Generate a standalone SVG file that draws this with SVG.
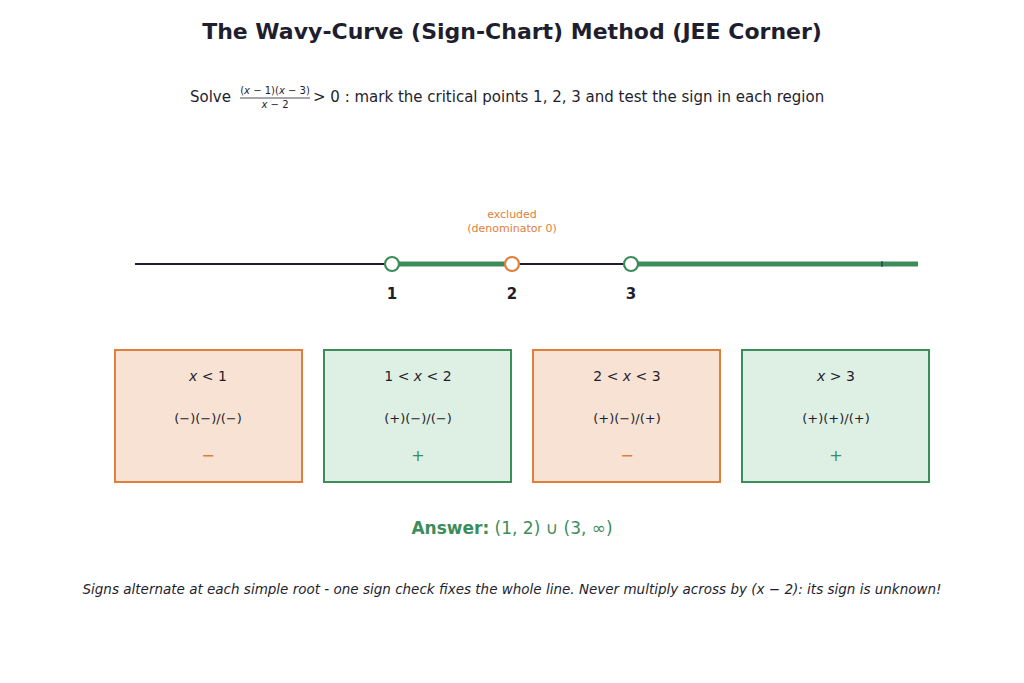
<svg xmlns="http://www.w3.org/2000/svg" width="1024" height="683" viewBox="0 0 1024 683">
<style>
text{font-family:"DejaVu Sans",sans-serif;fill:#1e1e2e}
.i{font-style:italic}
.rO{fill:#f8e2d4;stroke:#e07e3c;stroke-width:2}
.rG{fill:#deefe4;stroke:#3d8c5c;stroke-width:2}
.c{font-size:14px;text-anchor:middle}
.f{font-size:13px;text-anchor:middle}
.pt{font-size:15px;font-weight:bold;text-anchor:middle}
</style>
<rect width="1024" height="683" fill="#fff"/>
<text x="512" y="39" font-size="22" font-weight="bold" text-anchor="middle">The Wavy-Curve (Sign-Chart) Method  (JEE Corner)</text>
<text x="190" y="102" font-size="15">Solve</text>
<text x="275" y="94" font-size="10" text-anchor="middle">(<tspan class="i">x</tspan> − 1)(<tspan class="i">x</tspan> − 3)</text>
<line x1="240" y1="98" x2="310" y2="98" stroke="#1e1e2e" stroke-width="0.8"/>
<text x="275" y="108" font-size="10" text-anchor="middle"><tspan class="i">x</tspan> − 2</text>
<text x="313" y="102" font-size="15">&gt; 0 :  mark the critical points 1, 2, 3 and test the sign in each region</text>
<g id="connectors">
<line x1="135" y1="264" x2="918" y2="264" stroke="#1e1e2e" stroke-width="2"/>
<line x1="392" y1="264" x2="512" y2="264" stroke="#3d8c5c" stroke-width="5"/>
<line x1="631" y1="264" x2="918" y2="264" stroke="#3d8c5c" stroke-width="5"/>
<line x1="882" y1="261" x2="882" y2="267" stroke="#1e1e2e" stroke-width="1"/>
</g>
<g id="p1"><circle cx="392" cy="264" r="7" fill="#fff" stroke="#3d8c5c" stroke-width="2.2"/><text class="pt" x="392" y="299">1</text></g>
<g id="p2"><circle cx="512" cy="264" r="7" fill="#fff" stroke="#e07e3c" stroke-width="2.2"/><text class="pt" x="512" y="299">2</text>
<text x="512" y="218" font-size="11" text-anchor="middle" style="fill:#e07e3c">excluded</text>
<text x="512" y="232" font-size="11" text-anchor="middle" style="fill:#e07e3c">(denominator 0)</text></g>
<g id="p3"><circle cx="631" cy="264" r="7" fill="#fff" stroke="#3d8c5c" stroke-width="2.2"/><text class="pt" x="631" y="299">3</text></g>
<g id="r1"><rect class="rO" x="115" y="350" width="187" height="132"/><text class="c" x="208" y="381"><tspan class="i">x</tspan> &lt; 1</text><text class="f" x="208" y="423">(−)(−)/(−)</text><text class="c" x="208" y="461" style="fill:#e07e3c;font-size:16px">−</text></g>
<g id="r2"><rect class="rG" x="324" y="350" width="187" height="132"/><text class="c" x="418" y="381">1 &lt; <tspan class="i">x</tspan> &lt; 2</text><text class="f" x="418" y="423">(+)(−)/(−)</text><text class="c" x="418" y="461" style="fill:#3d8c5c;font-size:16px">+</text></g>
<g id="r3"><rect class="rO" x="533" y="350" width="187" height="132"/><text class="c" x="627" y="381">2 &lt; <tspan class="i">x</tspan> &lt; 3</text><text class="f" x="627" y="423">(+)(−)/(+)</text><text class="c" x="627" y="461" style="fill:#e07e3c;font-size:16px">−</text></g>
<g id="r4"><rect class="rG" x="742" y="350" width="187" height="132"/><text class="c" x="836" y="381"><tspan class="i">x</tspan> &gt; 3</text><text class="f" x="836" y="423">(+)(+)/(+)</text><text class="c" x="836" y="461" style="fill:#3d8c5c;font-size:16px">+</text></g>
<text x="512" y="534" font-size="17" text-anchor="middle" style="fill:#3d8c5c"><tspan font-weight="bold">Answer:</tspan>  (1, 2) ∪ (3, ∞)</text>
<text x="512" y="594" font-size="13.5" text-anchor="middle" class="i">Signs alternate at each simple root - one sign check fixes the whole line. Never multiply across by (x − 2): its sign is unknown!</text>
</svg>
